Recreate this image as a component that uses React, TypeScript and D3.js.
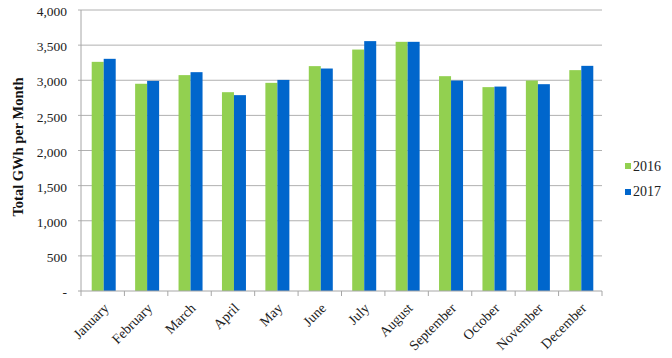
import React from "react";
import * as d3 from "d3";

const months = ["January","February","March","April","May","June","July","August","September","October","November","December"];
const series2016 = [3262,2950,3073,2830,2963,3201,3437,3547,3058,2902,2996,3144];
const series2017 = [3305,2991,3115,2788,3005,3167,3557,3547,2996,2910,2944,3205];
const seriesNames = ["2016","2017"];
const seriesColors = ["#92D050","#0066CC"];
const yTicks = [0,500,1000,1500,2000,2500,3000,3500,4000];

export default function App() {
  const W = 672, H = 358;
  const left = 81, right = 602, top = 10, bottom = 291;
  const x = d3.scaleBand<string>().domain(months).range([left, right]).paddingInner(0).paddingOuter(0);
  const y = d3.scaleLinear().domain([0, 4000]).range([bottom, top]);
  const barW = 12;
  const fmt = d3.format(",");
  const font = "'Liberation Serif', 'Times New Roman', serif";
  const data = [series2016, series2017];
  return (
    <div style={{ position: "absolute", left: 0, top: 0, width: W, height: H, background: "#fff" }}>
      <svg width={W} height={H} style={{ display: "block" }} fontFamily={font}>
        {yTicks.map((t) => (
          <g key={t}>
            {t > 0 && <line x1={left - 3} x2={right} y1={y(t)} y2={y(t)} stroke="#b0b0b0" strokeWidth={1} />}
            <text x={67} y={y(t) + 1.5} dy="0.35em" textAnchor="end" fontSize={13.5} fill="#222" fontFamily={font}>{t === 0 ? "-" : fmt(t)}</text>
          </g>
        ))}
        <line x1={left} x2={left} y1={top} y2={bottom} stroke="#a6a6a6" />
        {data.map((vals, si) =>
          vals.map((v, i) => {
            const cx = (x(months[i]) as number) + x.bandwidth() / 2 + 1;
            return (
              <rect key={si + "-" + i} x={cx - barW + si * barW} y={y(v)} width={barW} height={bottom - y(v)} fill={seriesColors[si]} />
            );
          })
        )}
        <line x1={left - 3} x2={right} y1={bottom} y2={bottom} stroke="#a6a6a6" />
        {months.concat([""]).map((m, i) => {
          const xx = left + i * x.bandwidth();
          return <line key={"t" + i} x1={xx} x2={xx} y1={bottom} y2={bottom + 5} stroke="#a6a6a6" />;
        })}
        {months.map((m) => {
          const cx = (x(m) as number) + x.bandwidth() / 2 + 7;
          return (
            <text key={m} transform={`translate(${cx},${bottom + 18}) rotate(-45)`} textAnchor="end" fontSize={14} fill="#222" fontFamily={font}>{m}</text>
          );
        })}
        <text transform={`translate(23,147) rotate(-90)`} textAnchor="middle" fontSize={14.5} fontWeight="bold" fill="#111" fontFamily={font}>Total GWh per Month</text>
        {seriesNames.map((n, i) => (
          <g key={n}>
            <rect x={625} y={163 + i * 26} width={6} height={6} fill={seriesColors[i]} />
            <text x={633} y={171 + i * 25} fontSize={14} fill="#222" fontFamily={font}>{n}</text>
          </g>
        ))}
      </svg>
    </div>
  );
}
